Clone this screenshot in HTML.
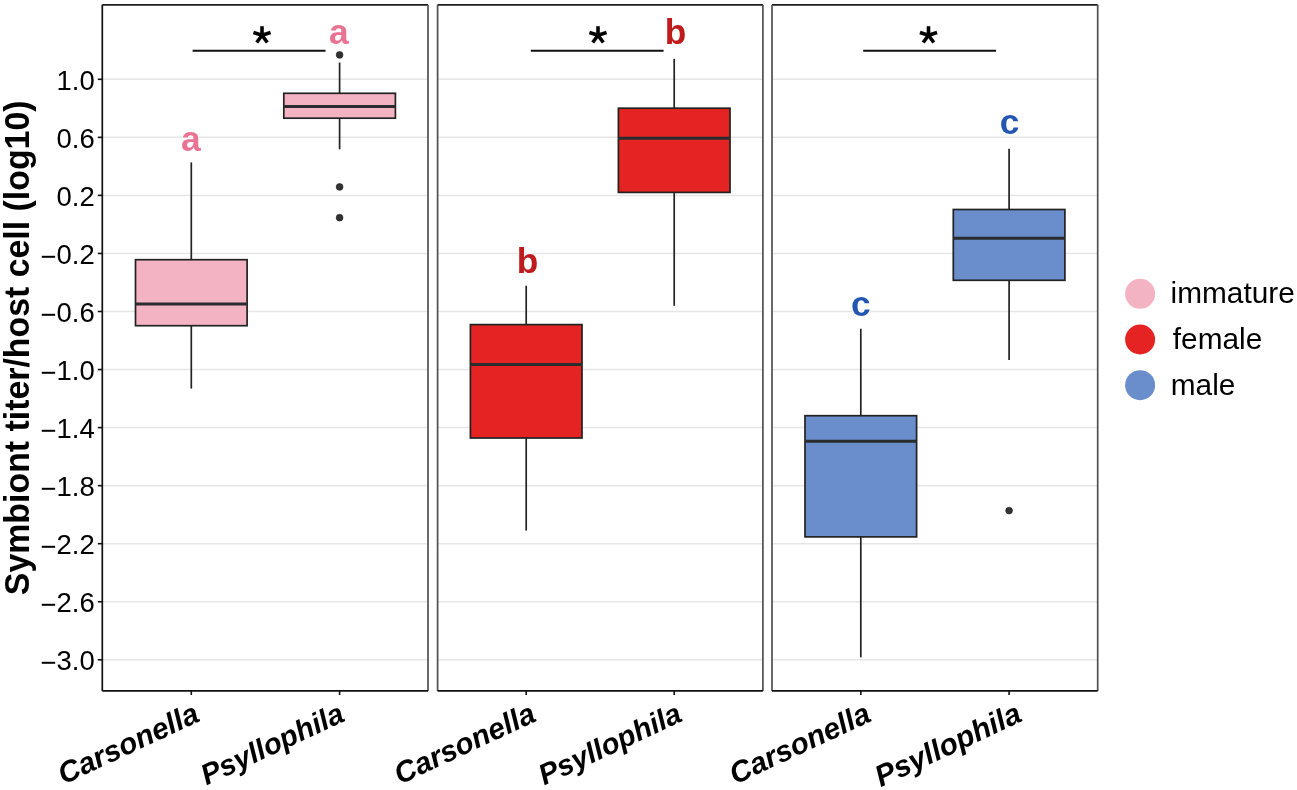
<!DOCTYPE html><html><head><meta charset="utf-8"><style>html,body{margin:0;padding:0;background:#fff;overflow:hidden;}svg{display:block;will-change:transform;} text{font-family:"Liberation Sans",sans-serif;}</style></head><body>
<svg width="1297" height="790" viewBox="0 0 1297 790">
<rect x="0" y="0" width="1297" height="790" fill="#fff"/>
<line x1="102.3" y1="79.30" x2="428.0" y2="79.30" stroke="#E6E6E6" stroke-width="1.5"/>
<line x1="102.3" y1="137.35" x2="428.0" y2="137.35" stroke="#E6E6E6" stroke-width="1.5"/>
<line x1="102.3" y1="195.40" x2="428.0" y2="195.40" stroke="#E6E6E6" stroke-width="1.5"/>
<line x1="102.3" y1="253.45" x2="428.0" y2="253.45" stroke="#E6E6E6" stroke-width="1.5"/>
<line x1="102.3" y1="311.50" x2="428.0" y2="311.50" stroke="#E6E6E6" stroke-width="1.5"/>
<line x1="102.3" y1="369.55" x2="428.0" y2="369.55" stroke="#E6E6E6" stroke-width="1.5"/>
<line x1="102.3" y1="427.60" x2="428.0" y2="427.60" stroke="#E6E6E6" stroke-width="1.5"/>
<line x1="102.3" y1="485.65" x2="428.0" y2="485.65" stroke="#E6E6E6" stroke-width="1.5"/>
<line x1="102.3" y1="543.70" x2="428.0" y2="543.70" stroke="#E6E6E6" stroke-width="1.5"/>
<line x1="102.3" y1="601.75" x2="428.0" y2="601.75" stroke="#E6E6E6" stroke-width="1.5"/>
<line x1="102.3" y1="659.80" x2="428.0" y2="659.80" stroke="#E6E6E6" stroke-width="1.5"/>
<line x1="437.6" y1="79.30" x2="762.9" y2="79.30" stroke="#E6E6E6" stroke-width="1.5"/>
<line x1="437.6" y1="137.35" x2="762.9" y2="137.35" stroke="#E6E6E6" stroke-width="1.5"/>
<line x1="437.6" y1="195.40" x2="762.9" y2="195.40" stroke="#E6E6E6" stroke-width="1.5"/>
<line x1="437.6" y1="253.45" x2="762.9" y2="253.45" stroke="#E6E6E6" stroke-width="1.5"/>
<line x1="437.6" y1="311.50" x2="762.9" y2="311.50" stroke="#E6E6E6" stroke-width="1.5"/>
<line x1="437.6" y1="369.55" x2="762.9" y2="369.55" stroke="#E6E6E6" stroke-width="1.5"/>
<line x1="437.6" y1="427.60" x2="762.9" y2="427.60" stroke="#E6E6E6" stroke-width="1.5"/>
<line x1="437.6" y1="485.65" x2="762.9" y2="485.65" stroke="#E6E6E6" stroke-width="1.5"/>
<line x1="437.6" y1="543.70" x2="762.9" y2="543.70" stroke="#E6E6E6" stroke-width="1.5"/>
<line x1="437.6" y1="601.75" x2="762.9" y2="601.75" stroke="#E6E6E6" stroke-width="1.5"/>
<line x1="437.6" y1="659.80" x2="762.9" y2="659.80" stroke="#E6E6E6" stroke-width="1.5"/>
<line x1="772.0" y1="79.30" x2="1097.7" y2="79.30" stroke="#E6E6E6" stroke-width="1.5"/>
<line x1="772.0" y1="137.35" x2="1097.7" y2="137.35" stroke="#E6E6E6" stroke-width="1.5"/>
<line x1="772.0" y1="195.40" x2="1097.7" y2="195.40" stroke="#E6E6E6" stroke-width="1.5"/>
<line x1="772.0" y1="253.45" x2="1097.7" y2="253.45" stroke="#E6E6E6" stroke-width="1.5"/>
<line x1="772.0" y1="311.50" x2="1097.7" y2="311.50" stroke="#E6E6E6" stroke-width="1.5"/>
<line x1="772.0" y1="369.55" x2="1097.7" y2="369.55" stroke="#E6E6E6" stroke-width="1.5"/>
<line x1="772.0" y1="427.60" x2="1097.7" y2="427.60" stroke="#E6E6E6" stroke-width="1.5"/>
<line x1="772.0" y1="485.65" x2="1097.7" y2="485.65" stroke="#E6E6E6" stroke-width="1.5"/>
<line x1="772.0" y1="543.70" x2="1097.7" y2="543.70" stroke="#E6E6E6" stroke-width="1.5"/>
<line x1="772.0" y1="601.75" x2="1097.7" y2="601.75" stroke="#E6E6E6" stroke-width="1.5"/>
<line x1="772.0" y1="659.80" x2="1097.7" y2="659.80" stroke="#E6E6E6" stroke-width="1.5"/>
<line x1="191.3" y1="162.4" x2="191.3" y2="259.7" stroke="#222" stroke-width="1.7"/>
<line x1="191.3" y1="325.7" x2="191.3" y2="388.6" stroke="#222" stroke-width="1.7"/>
<rect x="135.50" y="259.7" width="111.60" height="66.00" fill="#F4B3C2" stroke="#222" stroke-width="1.7"/>
<line x1="135.50" y1="304.0" x2="247.10" y2="304.0" stroke="#2a2d2e" stroke-width="3"/>
<line x1="339.6" y1="62.5" x2="339.6" y2="93.3" stroke="#222" stroke-width="1.7"/>
<line x1="339.6" y1="118.2" x2="339.6" y2="149.3" stroke="#222" stroke-width="1.7"/>
<rect x="283.80" y="93.3" width="111.60" height="24.90" fill="#F4B3C2" stroke="#222" stroke-width="1.7"/>
<line x1="283.80" y1="106.5" x2="395.40" y2="106.5" stroke="#2a2d2e" stroke-width="3"/>
<circle cx="339.6" cy="54.9" r="3.4" fill="#333" stroke="#1a1a1a" stroke-width="0.6"/>
<circle cx="339.6" cy="186.9" r="3.4" fill="#333" stroke="#1a1a1a" stroke-width="0.6"/>
<circle cx="339.6" cy="217.7" r="3.4" fill="#333" stroke="#1a1a1a" stroke-width="0.6"/>
<line x1="526.2" y1="285.7" x2="526.2" y2="324.6" stroke="#222" stroke-width="1.7"/>
<line x1="526.2" y1="438.0" x2="526.2" y2="530.6" stroke="#222" stroke-width="1.7"/>
<rect x="470.40" y="324.6" width="111.60" height="113.40" fill="#E42322" stroke="#222" stroke-width="1.7"/>
<line x1="470.40" y1="364.5" x2="582.00" y2="364.5" stroke="#2a2d2e" stroke-width="3"/>
<line x1="674.2" y1="58.8" x2="674.2" y2="108.2" stroke="#222" stroke-width="1.7"/>
<line x1="674.2" y1="192.4" x2="674.2" y2="305.8" stroke="#222" stroke-width="1.7"/>
<rect x="618.40" y="108.2" width="111.60" height="84.20" fill="#E42322" stroke="#222" stroke-width="1.7"/>
<line x1="618.40" y1="138.3" x2="730.00" y2="138.3" stroke="#2a2d2e" stroke-width="3"/>
<line x1="860.8" y1="328.7" x2="860.8" y2="415.7" stroke="#222" stroke-width="1.7"/>
<line x1="860.8" y1="536.9" x2="860.8" y2="657.3" stroke="#222" stroke-width="1.7"/>
<rect x="805.00" y="415.7" width="111.60" height="121.20" fill="#6A8ECB" stroke="#222" stroke-width="1.7"/>
<line x1="805.00" y1="441.2" x2="916.60" y2="441.2" stroke="#2a2d2e" stroke-width="3"/>
<line x1="1009.1" y1="148.7" x2="1009.1" y2="209.5" stroke="#222" stroke-width="1.7"/>
<line x1="1009.1" y1="280.3" x2="1009.1" y2="360.0" stroke="#222" stroke-width="1.7"/>
<rect x="953.30" y="209.5" width="111.60" height="70.80" fill="#6A8ECB" stroke="#222" stroke-width="1.7"/>
<line x1="953.30" y1="238.2" x2="1064.90" y2="238.2" stroke="#2a2d2e" stroke-width="3"/>
<circle cx="1009.1" cy="510.6" r="3.4" fill="#333" stroke="#1a1a1a" stroke-width="0.6"/>
<line x1="102.3" y1="4.85" x2="428.0" y2="4.85" stroke="#1e1e1e" stroke-width="1.6"/>
<line x1="102.3" y1="4.85" x2="102.3" y2="690.9" stroke="#111" stroke-width="1.7"/>
<line x1="428.0" y1="4.85" x2="428.0" y2="690.9" stroke="#505050" stroke-width="1.7"/>
<line x1="102.3" y1="690.9" x2="428.0" y2="690.9" stroke="#111" stroke-width="1.9"/>
<line x1="437.6" y1="4.85" x2="762.9" y2="4.85" stroke="#1e1e1e" stroke-width="1.6"/>
<line x1="437.6" y1="4.85" x2="437.6" y2="690.9" stroke="#505050" stroke-width="1.7"/>
<line x1="762.9" y1="4.85" x2="762.9" y2="690.9" stroke="#505050" stroke-width="1.7"/>
<line x1="437.6" y1="690.9" x2="762.9" y2="690.9" stroke="#111" stroke-width="1.9"/>
<line x1="772.0" y1="4.85" x2="1097.7" y2="4.85" stroke="#1e1e1e" stroke-width="1.6"/>
<line x1="772.0" y1="4.85" x2="772.0" y2="690.9" stroke="#505050" stroke-width="1.7"/>
<line x1="1097.7" y1="4.85" x2="1097.7" y2="690.9" stroke="#505050" stroke-width="1.7"/>
<line x1="772.0" y1="690.9" x2="1097.7" y2="690.9" stroke="#111" stroke-width="1.9"/>
<line x1="191.3" y1="690.9" x2="191.3" y2="695" stroke="#111" stroke-width="1.6"/>
<line x1="339.6" y1="690.9" x2="339.6" y2="695" stroke="#111" stroke-width="1.6"/>
<line x1="526.2" y1="690.9" x2="526.2" y2="695" stroke="#111" stroke-width="1.6"/>
<line x1="674.2" y1="690.9" x2="674.2" y2="695" stroke="#111" stroke-width="1.6"/>
<line x1="860.8" y1="690.9" x2="860.8" y2="695" stroke="#111" stroke-width="1.6"/>
<line x1="1009.1" y1="690.9" x2="1009.1" y2="695" stroke="#111" stroke-width="1.6"/>
<line x1="97.8" y1="79.30" x2="102.3" y2="79.30" stroke="#111" stroke-width="1.6"/>
<text transform="translate(94.8,89.50) scale(1,1.03)" font-size="27.5" text-anchor="end" fill="#000">1.0</text>
<line x1="97.8" y1="137.35" x2="102.3" y2="137.35" stroke="#111" stroke-width="1.6"/>
<text transform="translate(94.8,147.55) scale(1,1.03)" font-size="27.5" text-anchor="end" fill="#000">0.6</text>
<line x1="97.8" y1="195.40" x2="102.3" y2="195.40" stroke="#111" stroke-width="1.6"/>
<text transform="translate(94.8,205.60) scale(1,1.03)" font-size="27.5" text-anchor="end" fill="#000">0.2</text>
<line x1="97.8" y1="253.45" x2="102.3" y2="253.45" stroke="#111" stroke-width="1.6"/>
<text transform="translate(94.8,263.65) scale(1,1.03)" font-size="27.5" text-anchor="end" fill="#000"><tspan dy="2.0">−</tspan><tspan dy="-2.0">0.2</tspan></text>
<line x1="97.8" y1="311.50" x2="102.3" y2="311.50" stroke="#111" stroke-width="1.6"/>
<text transform="translate(94.8,321.70) scale(1,1.03)" font-size="27.5" text-anchor="end" fill="#000"><tspan dy="2.0">−</tspan><tspan dy="-2.0">0.6</tspan></text>
<line x1="97.8" y1="369.55" x2="102.3" y2="369.55" stroke="#111" stroke-width="1.6"/>
<text transform="translate(94.8,379.75) scale(1,1.03)" font-size="27.5" text-anchor="end" fill="#000"><tspan dy="2.0">−</tspan><tspan dy="-2.0">1.0</tspan></text>
<line x1="97.8" y1="427.60" x2="102.3" y2="427.60" stroke="#111" stroke-width="1.6"/>
<text transform="translate(94.8,437.80) scale(1,1.03)" font-size="27.5" text-anchor="end" fill="#000"><tspan dy="2.0">−</tspan><tspan dy="-2.0">1.4</tspan></text>
<line x1="97.8" y1="485.65" x2="102.3" y2="485.65" stroke="#111" stroke-width="1.6"/>
<text transform="translate(94.8,495.85) scale(1,1.03)" font-size="27.5" text-anchor="end" fill="#000"><tspan dy="2.0">−</tspan><tspan dy="-2.0">1.8</tspan></text>
<line x1="97.8" y1="543.70" x2="102.3" y2="543.70" stroke="#111" stroke-width="1.6"/>
<text transform="translate(94.8,553.90) scale(1,1.03)" font-size="27.5" text-anchor="end" fill="#000"><tspan dy="2.0">−</tspan><tspan dy="-2.0">2.2</tspan></text>
<line x1="97.8" y1="601.75" x2="102.3" y2="601.75" stroke="#111" stroke-width="1.6"/>
<text transform="translate(94.8,611.95) scale(1,1.03)" font-size="27.5" text-anchor="end" fill="#000"><tspan dy="2.0">−</tspan><tspan dy="-2.0">2.6</tspan></text>
<line x1="97.8" y1="659.80" x2="102.3" y2="659.80" stroke="#111" stroke-width="1.6"/>
<text transform="translate(94.8,670.00) scale(1,1.03)" font-size="27.5" text-anchor="end" fill="#000"><tspan dy="2.0">−</tspan><tspan dy="-2.0">3.0</tspan></text>
<text x="190.7" y="150.7" font-size="35.3" font-weight="bold" text-anchor="middle" fill="#EA7394" stroke="#fff" stroke-width="2.2" paint-order="stroke" >a</text>
<text x="338.9" y="44.4" font-size="35.3" font-weight="bold" text-anchor="middle" fill="#EA7394" stroke="#fff" stroke-width="2.2" paint-order="stroke" >a</text>
<text x="527.5" y="272.7" font-size="35.3" font-weight="bold" text-anchor="middle" fill="#BF1B1D" stroke="#fff" stroke-width="2.2" paint-order="stroke" >b</text>
<text x="675.6" y="43.8" font-size="35.3" font-weight="bold" text-anchor="middle" fill="#BF1B1D" stroke="#fff" stroke-width="2.2" paint-order="stroke" >b</text>
<text x="860.7" y="315.6" font-size="35.3" font-weight="bold" text-anchor="middle" fill="#2456B1" stroke="#fff" stroke-width="2.2" paint-order="stroke" >c</text>
<text x="1009.5" y="133.9" font-size="35.3" font-weight="bold" text-anchor="middle" fill="#2456B1" stroke="#fff" stroke-width="2.2" paint-order="stroke" >c</text>
<line x1="192.6" y1="50.85" x2="325.5" y2="50.85" stroke="#111" stroke-width="2"/>
<line x1="262.0" y1="35.2" x2="262.00" y2="26.20" stroke="#000" stroke-width="3.6"/><line x1="262.0" y1="35.2" x2="270.56" y2="32.42" stroke="#000" stroke-width="3.6"/><line x1="262.0" y1="35.2" x2="253.44" y2="32.42" stroke="#000" stroke-width="3.6"/><line x1="262.0" y1="35.2" x2="267.29" y2="42.48" stroke="#000" stroke-width="3.6"/><line x1="262.0" y1="35.2" x2="256.71" y2="42.48" stroke="#000" stroke-width="3.6"/>
<line x1="530.8" y1="50.85" x2="663.6" y2="50.85" stroke="#111" stroke-width="2"/>
<line x1="598.0" y1="35.2" x2="598.00" y2="26.20" stroke="#000" stroke-width="3.6"/><line x1="598.0" y1="35.2" x2="606.56" y2="32.42" stroke="#000" stroke-width="3.6"/><line x1="598.0" y1="35.2" x2="589.44" y2="32.42" stroke="#000" stroke-width="3.6"/><line x1="598.0" y1="35.2" x2="603.29" y2="42.48" stroke="#000" stroke-width="3.6"/><line x1="598.0" y1="35.2" x2="592.71" y2="42.48" stroke="#000" stroke-width="3.6"/>
<line x1="863.2" y1="50.85" x2="996.0" y2="50.85" stroke="#111" stroke-width="2"/>
<line x1="928.5" y1="35.2" x2="928.50" y2="26.20" stroke="#000" stroke-width="3.6"/><line x1="928.5" y1="35.2" x2="937.06" y2="32.42" stroke="#000" stroke-width="3.6"/><line x1="928.5" y1="35.2" x2="919.94" y2="32.42" stroke="#000" stroke-width="3.6"/><line x1="928.5" y1="35.2" x2="933.79" y2="42.48" stroke="#000" stroke-width="3.6"/><line x1="928.5" y1="35.2" x2="923.21" y2="42.48" stroke="#000" stroke-width="3.6"/>
<text transform="translate(28.7,347.8) rotate(-90) scale(0.9677,1)" font-size="35" font-weight="bold" text-anchor="middle" fill="#000">Symbiont titer/host cell (log10)</text>
<text transform="translate(201.3,720.5) rotate(-25)" font-size="29.7" font-weight="bold" font-style="italic" text-anchor="end" fill="#000">Carsonella</text>
<text transform="translate(346.1,720.5) rotate(-25)" font-size="29.2" font-weight="bold" font-style="italic" text-anchor="end" fill="#000">Psyllophila</text>
<text transform="translate(537.6,720.5) rotate(-25)" font-size="29.7" font-weight="bold" font-style="italic" text-anchor="end" fill="#000">Carsonella</text>
<text transform="translate(683.8,720.5) rotate(-25)" font-size="29.2" font-weight="bold" font-style="italic" text-anchor="end" fill="#000">Psyllophila</text>
<text transform="translate(872.8,720.5) rotate(-25)" font-size="29.7" font-weight="bold" font-style="italic" text-anchor="end" fill="#000">Carsonella</text>
<text transform="translate(1023.7,720.5) rotate(-25)" font-size="29.9" font-weight="bold" font-style="italic" text-anchor="end" fill="#000">Psyllophila</text>
<circle cx="1140.1" cy="293.8" r="15" fill="#F4B3C2"/>
<text x="1170.6" y="303.4" font-size="29.8" fill="#000">immature</text>
<circle cx="1140.1" cy="339.5" r="15" fill="#E42322"/>
<text x="1172.8" y="349.1" font-size="29.8" fill="#000">female</text>
<circle cx="1140.1" cy="385.2" r="15" fill="#6A8ECB"/>
<text x="1170.8" y="394.8" font-size="29.8" fill="#000">male</text>
</svg></body></html>
